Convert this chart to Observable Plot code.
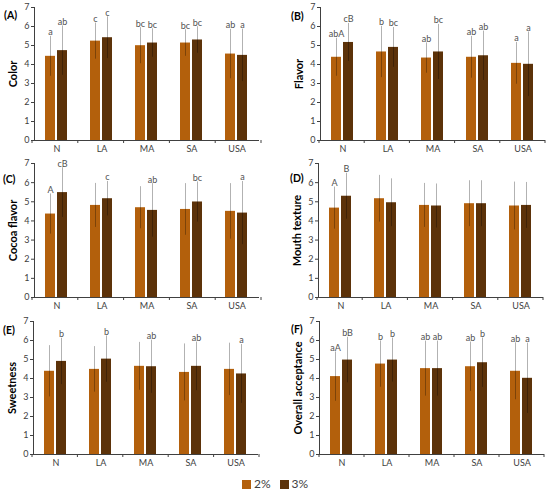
<!DOCTYPE html>
<html><head><meta charset="utf-8">
<script src="https://cdn.jsdelivr.net/npm/d3@7"></script>
<script src="https://cdn.jsdelivr.net/npm/@observablehq/plot@0.6"></script>
<style>
body{margin:0;background:#fff;font-family:Lato,"Liberation Sans",sans-serif;}
#wrap{position:relative;width:550px;height:493px;overflow:hidden;}
.panel{position:absolute;}
.plab{position:absolute;font-weight:bold;font-size:10.5px;color:#000;line-height:14px;}
svg g[aria-label="y-axis label"]{font-weight:bold;font-size:11px;fill:#000;}
#legend{position:absolute;top:477px;left:0;width:550px;display:flex;justify-content:center;gap:9px;font-size:12px;color:#404040;line-height:14px;}
#legend span.sw{display:inline-block;width:9px;height:9px;margin-right:3px;vertical-align:-1px;}
</style></head><body><div id="wrap"><div id="legend"></div></div>
<script>
const categories = ["N","LA","MA","SA","USA"];
const series = ["2%","3%"];
const colors = ["#B3600C","#5C3209"];
const yTicks = [0, 1, 2, 3, 4, 5, 6, 7];

// (A) Color
const colorMean2 = [4.43, 5.23, 4.99, 5.13, 4.55];
const colorMean3 = [4.73, 5.41, 5.13, 5.29, 4.48];
const colorSd2 = [1.05, 0.95, 0.95, 0.7, 1.3];
const colorSd3 = [1.3, 1.1, 0.75, 0.7, 1.38];
const colorLet2 = ["a","c","bc","bc","ab"];
const colorLet3 = ["ab","c","bc","bc","a"];
// (B) Flavor
const flavorMean2 = [4.38, 4.66, 4.34, 4.38, 4.06];
const flavorMean3 = [5.16, 4.9, 4.66, 4.46, 4.01];
const flavorSd2 = [1.0, 1.35, 0.8, 1.1, 1.1];
const flavorSd3 = [1.0, 1.05, 1.45, 1.3, 1.7];
const flavorLet2 = ["abA","b","ab","ab","a"];
const flavorLet3 = ["cB","bc","bc","ab","a"];
// (C) Cocoa flavor
const cocoaMean2 = [4.36, 4.81, 4.69, 4.6, 4.5];
const cocoaMean3 = [5.48, 5.16, 4.55, 4.99, 4.41];
const cocoaSd2 = [1.05, 1.15, 1.1, 1.35, 1.45];
const cocoaSd3 = [1.3, 0.9, 1.4, 1.05, 1.65];
const cocoaLet2 = ["A","","","",""];
const cocoaLet3 = ["cB","c","ab","bc","a"];
// (D) Mouth texture
const mouthMean2 = [4.67, 5.16, 4.81, 4.9, 4.78];
const mouthMean3 = [5.29, 4.95, 4.78, 4.9, 4.81];
const mouthSd2 = [1.1, 1.22, 1.15, 1.2, 1.25];
const mouthSd3 = [1.2, 1.25, 1.15, 1.2, 1.2];
const mouthLet2 = ["A","","","",""];
const mouthLet3 = ["B","","","",""];
// (E) Sweetness
const sweetMean2 = [4.38, 4.48, 4.64, 4.32, 4.48];
const sweetMean3 = [4.9, 5.02, 4.62, 4.64, 4.24];
const sweetSd2 = [1.35, 1.2, 1.26, 1.5, 1.38];
const sweetSd3 = [1.22, 1.22, 1.4, 1.28, 1.55];
const sweetLet2 = ["","","","",""];
const sweetLet3 = ["b","b","ab","ab","a"];
// (F) Overall acceptance
const overallMean2 = [4.1, 4.76, 4.52, 4.62, 4.38];
const overallMean3 = [4.97, 4.97, 4.52, 4.83, 4.01];
const overallSd2 = [1.3, 1.22, 1.45, 1.3, 1.5];
const overallSd3 = [1.2, 1.16, 1.45, 1.3, 1.85];
const overallLet2 = ["aA","b","ab","ab","ab"];
const overallLet3 = ["bB","b","ab","b","a"];

const panels = [
  {tag:"(A)", title:"Color", m2:colorMean2, m3:colorMean3, s2:colorSd2, s3:colorSd3, l2:colorLet2, l3:colorLet3,
   left:0, top:0, h:155, mL:32, mR:14, mT:7, mB:15, tagX:4, tagY:8},
  {tag:"(B)", title:"Flavor", m2:flavorMean2, m3:flavorMean3, s2:flavorSd2, s3:flavorSd3, l2:flavorLet2, l3:flavorLet3,
   left:275, top:0, h:155, mL:44, mR:5, mT:7, mB:15, tagX:291, tagY:9},
  {tag:"(C)", title:"Cocoa flavor", m2:cocoaMean2, m3:cocoaMean3, s2:cocoaSd2, s3:cocoaSd3, l2:cocoaLet2, l3:cocoaLet3,
   left:0, top:155, h:155, mL:32, mR:14, mT:8, mB:13, tagX:3, tagY:172},
  {tag:"(D)", title:"Mouth texture", m2:mouthMean2, m3:mouthMean3, s2:mouthSd2, s3:mouthSd3, l2:mouthLet2, l3:mouthLet3,
   left:275, top:155, h:155, mL:42, mR:7, mT:8, mB:13, tagX:290, tagY:171},
  {tag:"(E)", title:"Sweetness", m2:sweetMean2, m3:sweetMean3, s2:sweetSd2, s3:sweetSd3, l2:sweetLet2, l3:sweetLet3,
   left:0, top:310, h:160, mL:32, mR:16, mT:11, mB:16, tagX:3, tagY:323},
  {tag:"(F)", title:"Overall acceptance", m2:overallMean2, m3:overallMean3, s2:overallSd2, s3:overallSd3, l2:overallLet2, l3:overallLet3,
   left:275, top:310, h:160, mL:44, mR:6, mT:11, mB:16, tagX:291, tagY:322}
];

const wrap = document.getElementById("wrap");

for (const p of panels) {
  const rows = [];
  categories.forEach((c, i) => {
    rows.push({cat:c, s:series[0], m:p.m2[i], sd:p.s2[i], l:p.l2[i]});
    rows.push({cat:c, s:series[1], m:p.m3[i], sd:p.s3[i], l:p.l3[i]});
  });
  const chart = Plot.plot({
    width: 275, height: p.h,
    marginLeft: p.mL, marginRight: p.mR, marginTop: p.mT, marginBottom: p.mB,
    style: {fontFamily: "Lato, 'Liberation Sans', sans-serif", fontSize: "9px", color: "#404040", background: "transparent", overflow: "visible"},
    fx: {domain: categories, padding: 0, label: null, axis: "bottom", tickSize: 0, tickPadding: 5},
    x: {domain: series, axis: null, paddingInner: 0.16, paddingOuter: 0.92},
    y: {domain: [0, 7], ticks: yTicks, tickFormat: d3.format("d"), tickSize: 3, tickPadding: 2, label: p.title, labelAnchor: "center", labelOffset: 25, labelArrow: "none", line: true},
    color: {domain: series, range: colors},
    marks: [
      Plot.barY(rows, {fx: "cat", x: "s", y: "m", fill: "s"}),
      Plot.ruleX(rows, {fx: "cat", x: "s", y1: d => d.m - d.sd, y2: d => d.m + d.sd, stroke: "#000", strokeOpacity: 0.3, strokeWidth: 1}),
      Plot.text(rows, {fx: "cat", x: "s", y: d => d.m + d.sd, text: "l", lineAnchor: "bottom", dy: -1, fill: "#505050"}),
      Plot.ruleY([0], {stroke: "#404040"})
    ]
  });
  // boundary ticks on the category axis, from the fx scale
  const fx = chart.scale("fx");
  const r0 = fx.range[0], r1 = fx.range[1];
  const step = (r1 - r0) / categories.length;
  const y0 = p.h - p.mB;
  d3.select(chart).append("g")
    .selectAll("line").data(d3.range(categories.length + 1)).join("line")
    .attr("x1", i => r0 + i * step).attr("x2", i => r0 + i * step)
    .attr("y1", y0).attr("y2", y0 + 3)
    .attr("stroke", "#404040");
  const div = document.createElement("div");
  div.className = "panel";
  div.style.left = p.left + "px";
  div.style.top = p.top + "px";
  div.appendChild(chart);
  wrap.appendChild(div);
  const tag = document.createElement("div");
  tag.className = "plab";
  tag.style.left = p.tagX + "px";
  tag.style.top = p.tagY + "px";
  tag.textContent = p.tag;
  wrap.appendChild(tag);
}

const legend = document.getElementById("legend");
series.forEach((s, i) => {
  const item = document.createElement("span");
  const sw = document.createElement("span");
  sw.className = "sw";
  sw.style.background = colors[i];
  item.appendChild(sw);
  item.appendChild(document.createTextNode(s));
  legend.appendChild(item);
});
</script>
</body></html>
